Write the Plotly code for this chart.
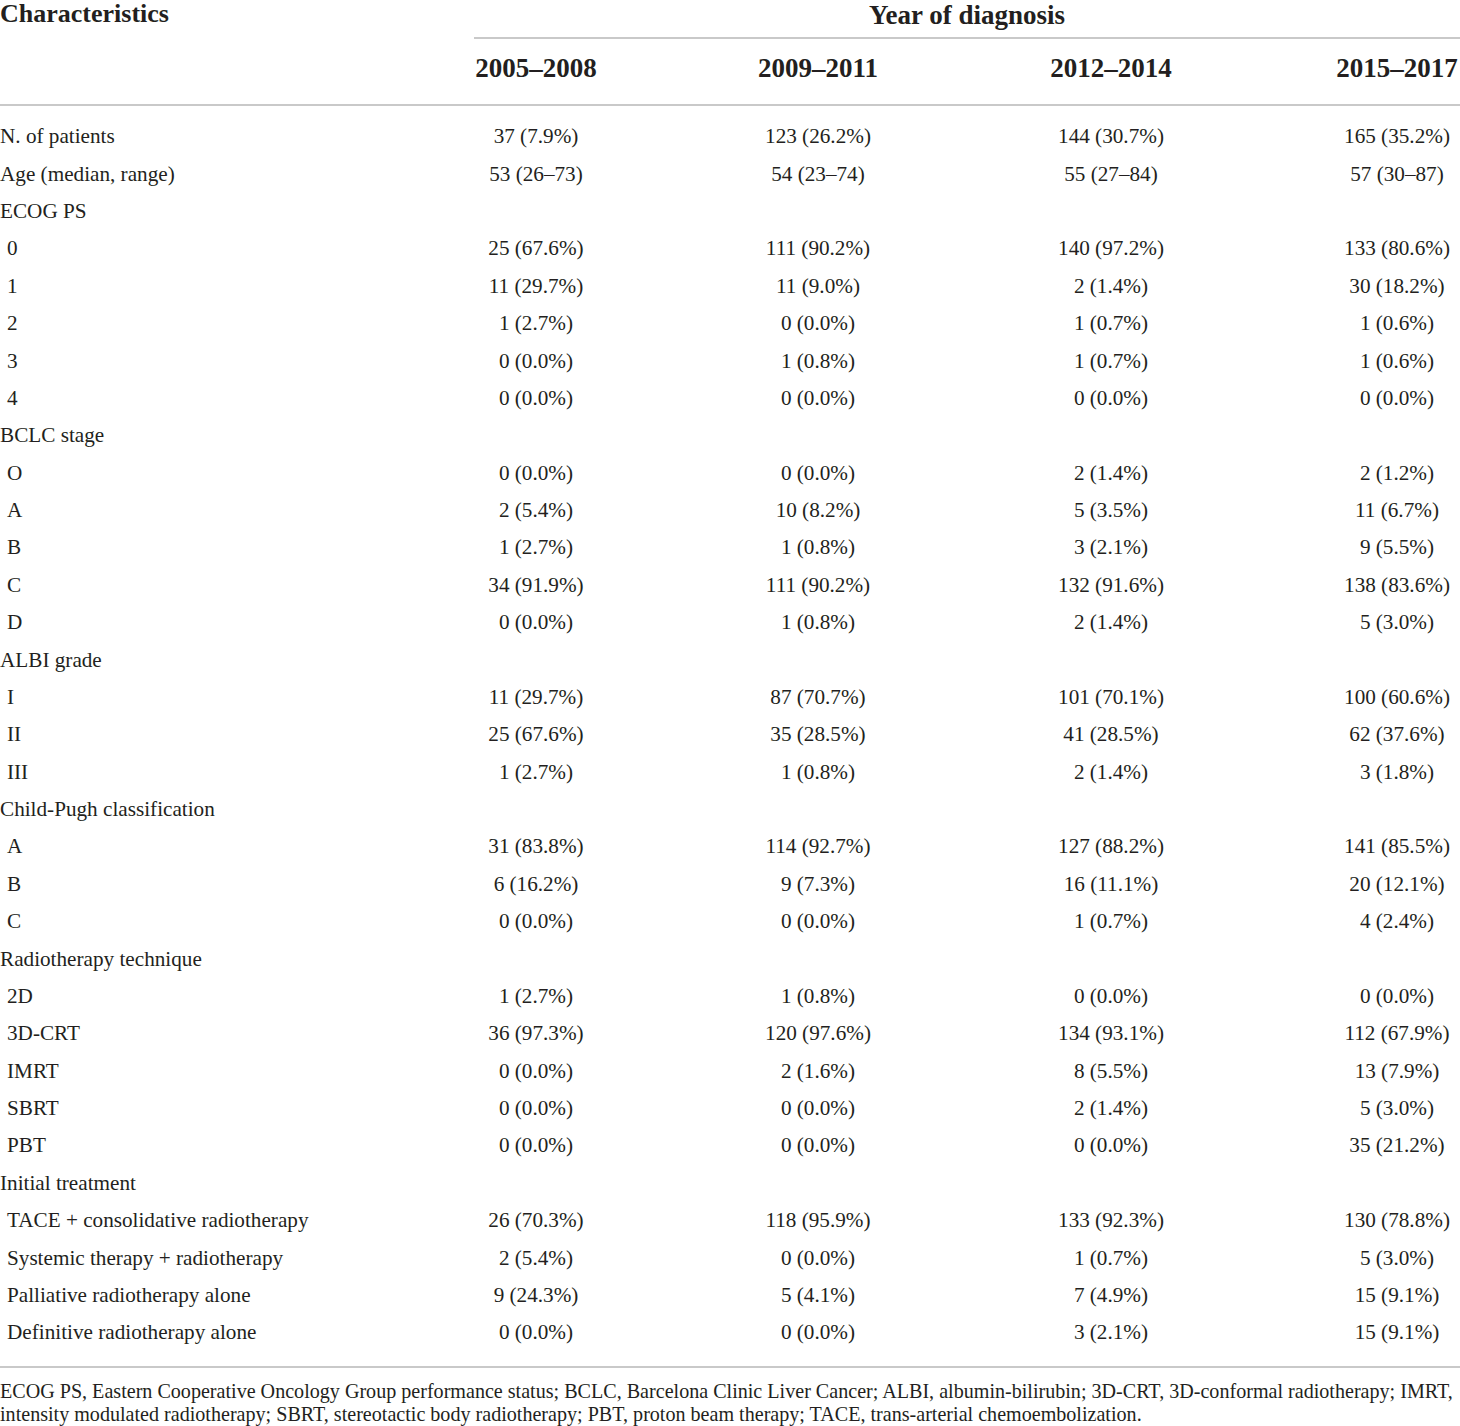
import plotly.graph_objects as go

# row labels and the four period columns (values as printed)
labels = [
    "N. of patients", "Age (median, range)",
    "ECOG PS", "0", "1", "2", "3", "4",
    "BCLC stage", "O", "A", "B", "C", "D",
    "ALBI grade", "I", "II", "III",
    "Child-Pugh classification", "A", "B", "C",
    "Radiotherapy technique", "2D", "3D-CRT", "IMRT", "SBRT", "PBT",
    "Initial treatment", "TACE + consolidative radiotherapy",
    "Systemic therapy + radiotherapy", "Palliative radiotherapy alone",
    "Definitive radiotherapy alone",
]
sub_item = [
    False, False,
    False, True, True, True, True, True,
    False, True, True, True, True, True,
    False, True, True, True,
    False, True, True, True,
    False, True, True, True, True, True,
    False, True, True, True, True,
]
periods = ["2005–2008", "2009–2011", "2012–2014", "2015–2017"]

col_2005_2008 = [
    "37 (7.9%)", "53 (26–73)",
    "", "25 (67.6%)", "11 (29.7%)", "1 (2.7%)", "0 (0.0%)", "0 (0.0%)",
    "", "0 (0.0%)", "2 (5.4%)", "1 (2.7%)", "34 (91.9%)", "0 (0.0%)",
    "", "11 (29.7%)", "25 (67.6%)", "1 (2.7%)",
    "", "31 (83.8%)", "6 (16.2%)", "0 (0.0%)",
    "", "1 (2.7%)", "36 (97.3%)", "0 (0.0%)", "0 (0.0%)", "0 (0.0%)",
    "", "26 (70.3%)", "2 (5.4%)", "9 (24.3%)", "0 (0.0%)",
]
col_2009_2011 = [
    "123 (26.2%)", "54 (23–74)",
    "", "111 (90.2%)", "11 (9.0%)", "0 (0.0%)", "1 (0.8%)", "0 (0.0%)",
    "", "0 (0.0%)", "10 (8.2%)", "1 (0.8%)", "111 (90.2%)", "1 (0.8%)",
    "", "87 (70.7%)", "35 (28.5%)", "1 (0.8%)",
    "", "114 (92.7%)", "9 (7.3%)", "0 (0.0%)",
    "", "1 (0.8%)", "120 (97.6%)", "2 (1.6%)", "0 (0.0%)", "0 (0.0%)",
    "", "118 (95.9%)", "0 (0.0%)", "5 (4.1%)", "0 (0.0%)",
]
col_2012_2014 = [
    "144 (30.7%)", "55 (27–84)",
    "", "140 (97.2%)", "2 (1.4%)", "1 (0.7%)", "1 (0.7%)", "0 (0.0%)",
    "", "2 (1.4%)", "5 (3.5%)", "3 (2.1%)", "132 (91.6%)", "2 (1.4%)",
    "", "101 (70.1%)", "41 (28.5%)", "2 (1.4%)",
    "", "127 (88.2%)", "16 (11.1%)", "1 (0.7%)",
    "", "0 (0.0%)", "134 (93.1%)", "8 (5.5%)", "2 (1.4%)", "0 (0.0%)",
    "", "133 (92.3%)", "1 (0.7%)", "7 (4.9%)", "3 (2.1%)",
]
col_2015_2017 = [
    "165 (35.2%)", "57 (30–87)",
    "", "133 (80.6%)", "30 (18.2%)", "1 (0.6%)", "1 (0.6%)", "0 (0.0%)",
    "", "2 (1.2%)", "11 (6.7%)", "9 (5.5%)", "138 (83.6%)", "5 (3.0%)",
    "", "100 (60.6%)", "62 (37.6%)", "3 (1.8%)",
    "", "141 (85.5%)", "20 (12.1%)", "4 (2.4%)",
    "", "0 (0.0%)", "112 (67.9%)", "13 (7.9%)", "5 (3.0%)", "35 (21.2%)",
    "", "130 (78.8%)", "5 (3.0%)", "15 (9.1%)", "15 (9.1%)",
]

footnote = [
    "ECOG PS, Eastern Cooperative Oncology Group performance status; BCLC, Barcelona Clinic "
    "Liver Cancer; ALBI, albumin-bilirubin; 3D-CRT, 3D-conformal radiotherapy; IMRT,",
    "intensity modulated radiotherapy; SBRT, stereotactic body radiotherapy; PBT, proton beam "
    "therapy; TACE, trans-arterial chemoembolization.",
]

# page geometry (pixels)
W, H = 1460, 1426
FONT = "Liberation Serif"
INK = "#231f20"
RULE = "#c9c9c9"
row0, row_step = 138, 37.375
col_x = [536, 818, 1111, 1397]
row_y = [row0 + i * row_step for i in range(len(labels))]
BODY = 21.2
HEAD = 27


def text_trace(x, y, text, pos, size):
    return go.Scatter(
        x=x, y=y, text=text, mode="text", textposition=pos,
        textfont=dict(family=FONT, size=size, color=INK),
        cliponaxis=False, hoverinfo="skip", showlegend=False,
    )


fig = go.Figure()

# characteristic labels, sub-items slightly indented
fig.add_trace(text_trace([7 if s else 0 for s in sub_item], row_y, labels, "middle right", BODY))

for cx, vals in zip(col_x, [col_2005_2008, col_2009_2011, col_2012_2014, col_2015_2017]):
    fig.add_trace(text_trace([cx] * len(vals), row_y, vals, "middle center", BODY))

# headers
fig.add_trace(text_trace(col_x, [70] * len(periods), [f"<b>{p}</b>" for p in periods],
                         "middle center", HEAD))
fig.add_trace(text_trace([0], [15], ["<b>Characteristics</b>"], "middle right", 26))
fig.add_trace(text_trace([967], [17], ["<b>Year of diagnosis</b>"], "middle center", HEAD))

# footnote
fig.add_trace(text_trace([0, 0], [1393, 1415.5], footnote, "middle right", 20.1))

# horizontal rules
for x0, y in [(474, 38), (0, 105), (0, 1367)]:
    fig.add_shape(type="line", x0=x0, x1=W, y0=y, y1=y, xref="x", yref="y",
                  line=dict(color=RULE, width=2))

fig.update_layout(
    width=W, height=H,
    margin=dict(l=0, r=0, t=0, b=0),
    paper_bgcolor="white", plot_bgcolor="white",
    xaxis=dict(range=[0, W], visible=False, fixedrange=True),
    yaxis=dict(range=[H, 0], visible=False, fixedrange=True),
    hovermode=False,
)

fig.write_html(
    "out.html",
    config={"displayModeBar": False},
    post_script="document.body.style.margin='0';",
)
